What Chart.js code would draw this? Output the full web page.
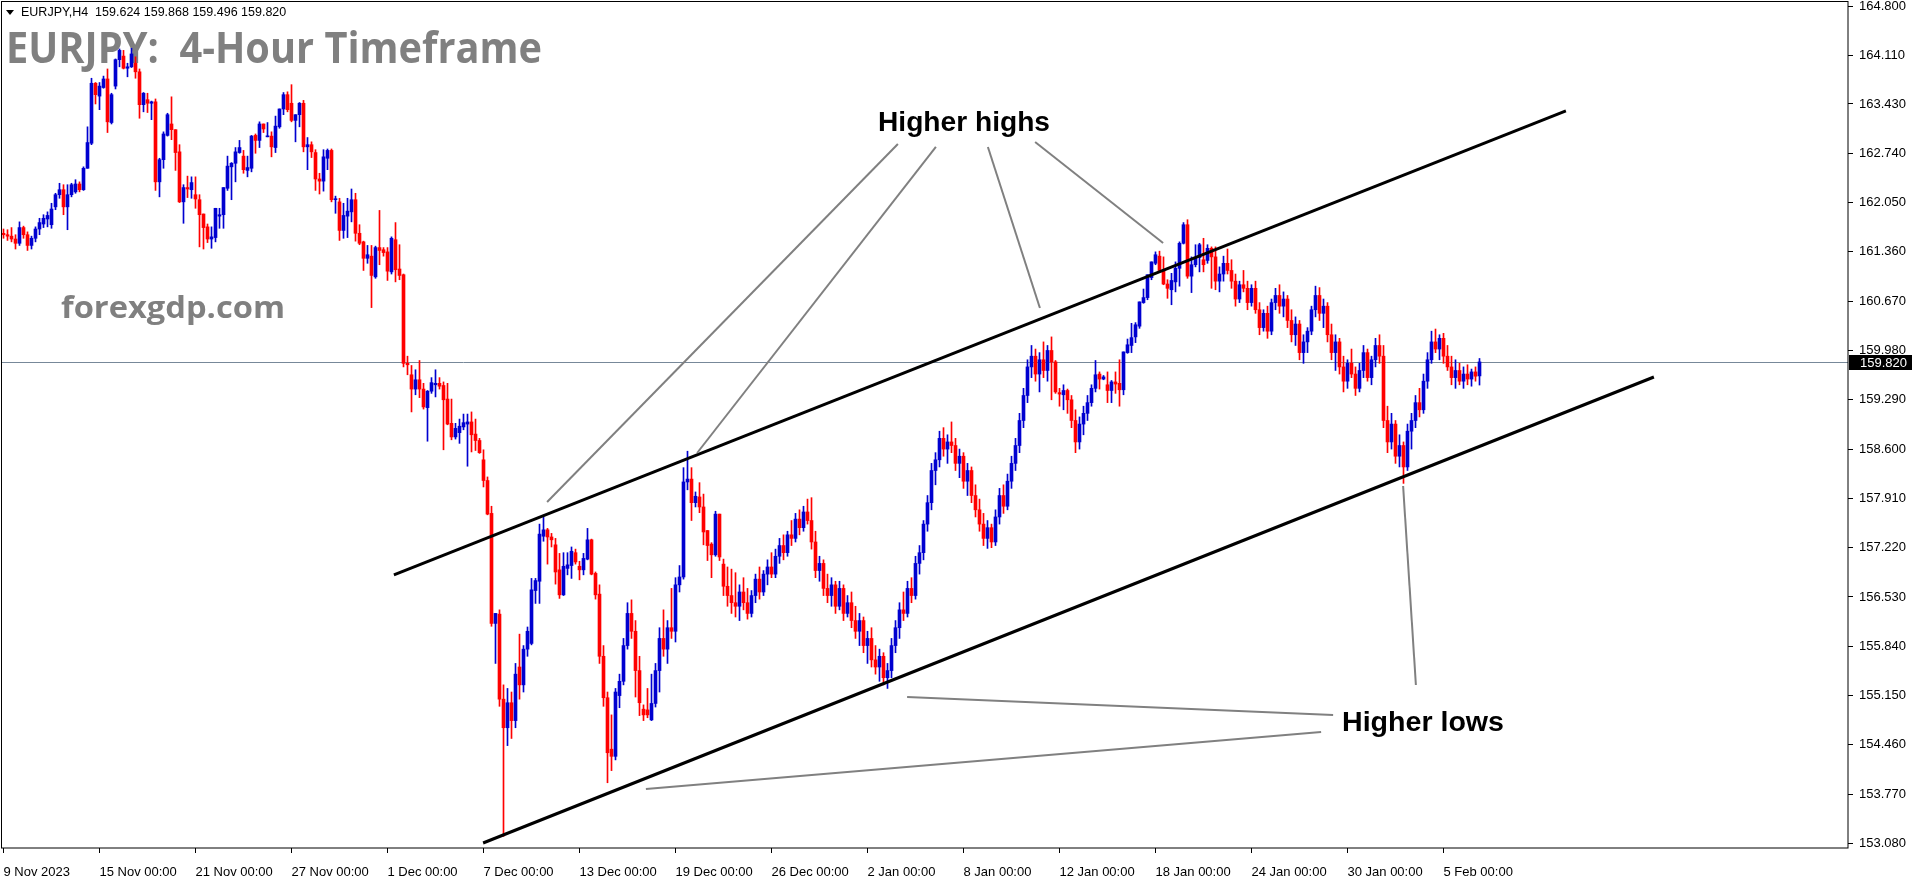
<!DOCTYPE html>
<html>
<head>
<meta charset="utf-8">
<title>EURJPY H4</title>
<script src="https://cdn.jsdelivr.net/npm/chart.js@4.4.0/dist/chart.umd.min.js"></script>
<style>
  html, body { margin: 0; padding: 0; background: #fff; }
  #wrap { width: 1916px; height: 884px; position: relative; }
</style>
</head>
<body>
<div id="wrap"><canvas id="chart"></canvas></div>
<script>
// EURJPY H4 candles (one value per bar, oldest first)
const opens = [
  161.62,161.60,161.58,161.54,161.48,161.70,161.60,161.45,161.55,161.68,
  161.75,161.82,161.74,161.99,162.16,162.23,161.99,162.16,162.20,162.31,
  162.23,162.53,162.88,163.72,163.54,163.66,163.78,163.17,163.68,164.05,
  164.10,163.93,163.95,164.00,163.88,163.42,163.49,163.44,163.46,162.34,
  162.65,162.99,163.15,163.07,162.76,162.06,162.26,162.23,162.16,162.09,
  161.89,161.71,161.54,161.56,161.86,161.88,162.25,162.55,162.60,162.75,
  162.70,162.50,162.53,162.99,162.92,163.15,162.97,162.98,162.82,163.11,
  163.36,163.56,163.44,163.20,163.28,163.44,162.83,162.86,162.75,162.38,
  162.35,162.67,162.78,162.09,162.06,161.66,161.86,161.92,162.09,161.62,
  161.50,161.27,161.30,161.01,161.42,161.39,161.36,161.08,161.53,161.12,
  161.04,159.80,159.64,159.44,159.57,159.44,159.18,159.41,159.50,159.52,
  159.49,159.30,158.96,158.77,158.83,158.91,158.95,158.98,158.81,158.72,
  158.45,158.16,157.70,156.16,156.29,155.10,154.70,155.05,154.80,155.55,
  155.30,155.80,155.88,156.62,156.75,157.38,157.47,157.37,157.26,156.91,
  156.56,156.93,156.97,157.15,156.96,156.91,157.06,157.33,156.86,156.57,
  155.70,155.12,154.40,154.30,155.15,155.35,155.85,156.30,156.05,155.50,
  154.96,154.95,154.81,155.04,155.50,155.95,155.80,156.10,156.05,156.70,
  156.81,158.14,158.18,157.85,157.93,157.79,157.46,157.27,157.12,157.69,
  156.99,156.68,156.55,156.45,156.40,156.60,156.45,156.30,156.55,156.78,
  156.60,156.85,156.95,156.85,157.10,157.25,157.15,157.40,157.35,157.62,
  157.50,157.72,157.60,157.30,156.90,157.00,156.65,156.55,156.70,156.40,
  156.65,156.30,156.45,156.20,156.05,156.20,155.85,155.95,155.65,155.55,
  155.70,155.40,155.50,155.85,156.10,156.35,156.30,156.65,156.55,157.00,
  157.15,157.55,157.85,158.30,158.45,158.75,158.60,158.70,158.65,158.40,
  158.50,158.15,158.30,157.95,157.75,157.55,157.35,157.50,157.30,157.65,
  157.95,157.80,158.15,158.40,158.65,159.00,159.35,159.75,159.90,159.65,
  159.85,159.70,159.98,159.82,159.39,159.36,159.42,159.29,159.00,158.70,
  158.95,159.10,159.25,159.45,159.65,159.58,159.50,159.42,159.54,159.52,
  159.43,159.95,160.05,160.17,160.32,160.65,160.72,161.00,161.20,161.30,
  161.10,160.91,160.83,160.94,161.13,161.48,161.74,161.02,161.18,161.28,
  161.25,161.24,161.41,161.29,160.95,161.05,161.20,161.10,160.95,160.70,
  160.90,160.85,160.65,160.85,160.55,160.30,160.50,160.25,160.65,160.75,
  160.60,160.70,160.40,160.20,160.35,159.95,160.10,160.25,160.55,160.75,
  160.50,160.60,160.20,159.95,160.10,159.75,159.55,159.80,159.65,159.45,
  159.70,159.95,159.60,159.85,160.05,159.90,159.00,158.70,158.95,158.50,
  158.65,158.35,158.85,159.00,159.25,159.15,159.55,159.85,160.10,160.00,
  160.15,159.90,159.75,159.60,159.70,159.55,159.65,159.58,159.68,159.624
];
const highs = [
  161.68,161.67,161.70,161.60,161.78,161.72,161.64,161.58,161.71,161.83,
  161.88,161.92,162.04,162.18,162.32,162.30,162.30,162.32,162.37,162.34,
  162.55,163.11,163.79,163.73,163.73,163.82,163.92,163.58,164.06,164.20,
  164.18,164.00,164.21,164.09,163.92,163.59,163.58,163.47,163.50,162.67,
  163.04,163.30,163.53,163.07,162.86,162.30,162.42,162.41,162.41,162.16,
  161.89,161.75,161.71,161.97,161.97,162.26,162.70,162.61,162.82,162.92,
  162.78,162.70,162.99,163.01,163.18,163.15,163.17,163.04,163.26,163.36,
  163.59,163.60,163.70,163.28,163.45,163.48,162.96,162.90,162.79,162.46,
  162.79,162.80,162.80,162.14,162.11,162.04,162.11,162.24,162.18,161.74,
  161.51,161.45,161.45,161.44,161.94,161.42,161.42,161.57,161.77,161.46,
  161.05,159.90,159.77,159.71,159.84,159.52,159.42,159.60,159.71,159.60,
  159.54,159.52,159.30,158.96,159.02,159.09,159.09,159.12,159.02,158.75,
  158.59,158.21,157.80,156.30,156.35,155.30,155.25,155.20,155.60,156.01,
  155.85,156.11,156.79,156.79,157.55,157.65,157.49,157.42,157.35,157.14,
  157.15,157.15,157.23,157.20,157.03,157.14,157.49,157.34,156.88,156.70,
  155.85,155.20,154.88,155.25,155.45,155.95,156.45,156.49,156.20,155.70,
  155.02,155.25,155.45,155.60,156.10,156.35,156.20,156.65,156.80,156.97,
  158.34,158.57,158.34,158.00,158.13,157.97,157.46,157.29,157.73,157.69,
  157.06,156.95,156.92,156.87,156.70,156.80,156.65,156.62,156.85,156.95,
  156.90,157.05,157.15,157.20,157.35,157.40,157.45,157.60,157.70,157.75,
  157.80,157.90,157.92,157.45,157.10,157.05,156.85,156.80,156.75,156.75,
  156.70,156.55,156.60,156.40,156.30,156.25,156.05,156.10,155.85,155.80,
  155.75,155.60,155.95,156.20,156.45,156.60,156.75,156.80,157.10,157.25,
  157.60,157.95,158.40,158.55,158.85,158.90,158.80,158.98,158.75,158.60,
  158.55,158.40,158.35,158.10,157.90,157.70,157.60,157.55,157.75,158.05,
  158.10,158.25,158.50,158.75,159.10,159.45,159.85,160.05,160.00,159.95,
  160.10,160.05,160.17,159.84,159.45,159.50,159.44,159.35,159.15,159.05,
  159.20,159.35,159.50,159.84,159.68,159.63,159.68,159.56,159.68,159.85,
  159.96,160.14,160.36,160.37,160.66,160.84,161.04,161.22,161.36,161.37,
  161.29,160.97,161.06,161.22,161.50,161.77,161.81,161.29,161.46,161.48,
  161.55,161.46,161.43,161.43,161.15,161.30,161.40,161.25,161.05,160.95,
  161.10,160.95,160.90,160.95,160.65,160.55,160.60,160.70,160.85,160.90,
  160.80,160.75,160.55,160.45,160.40,160.20,160.30,160.60,160.88,160.86,
  160.70,160.65,160.35,160.20,160.15,159.90,159.85,160.00,159.75,159.80,
  160.05,160.00,159.90,160.15,160.20,160.05,159.20,159.10,159.00,158.80,
  158.70,158.95,159.10,159.35,159.45,159.65,159.95,160.25,160.28,160.20,
  160.22,160.05,159.90,159.85,159.80,159.75,159.78,159.72,159.75,159.868
];
const lows = [
  161.55,161.52,161.50,161.40,161.45,161.55,161.38,161.40,161.50,161.60,
  161.70,161.71,161.69,161.95,162.11,161.88,161.67,162.13,162.18,162.20,
  162.22,162.53,162.86,163.43,163.35,163.65,163.03,163.15,163.64,163.95,
  163.92,163.81,163.94,163.79,163.23,163.32,163.31,163.21,162.22,162.13,
  162.53,162.98,162.93,162.50,162.05,161.76,162.12,162.11,161.97,161.43,
  161.40,161.49,161.41,161.50,161.69,161.69,162.22,162.09,162.34,162.74,
  162.46,162.41,162.48,162.74,162.82,163.03,162.97,162.69,162.75,163.09,
  163.28,163.32,163.18,162.90,163.11,162.76,162.51,162.68,162.22,162.17,
  162.21,162.51,162.06,161.90,161.52,161.55,161.56,161.78,161.51,161.46,
  161.10,161.20,160.58,160.99,161.18,161.30,160.96,161.05,160.94,160.97,
  159.75,159.64,159.12,159.36,159.32,159.16,158.71,159.38,159.33,159.44,
  158.59,158.94,158.73,158.74,158.68,158.87,158.36,158.56,158.58,158.54,
  158.07,157.68,156.12,155.60,155.00,153.18,154.45,154.55,154.70,155.10,
  155.20,155.70,155.86,156.44,156.44,157.31,156.99,157.23,156.71,156.51,
  156.55,156.84,156.79,156.99,156.77,156.84,157.05,156.84,156.50,155.60,
  155.00,153.93,154.10,154.25,154.98,155.30,155.80,155.95,155.13,154.87,
  154.80,154.84,154.80,154.99,155.20,155.70,155.60,155.95,155.90,156.60,
  156.78,158.03,157.60,157.79,157.71,157.26,157.04,156.80,157.10,157.04,
  156.55,156.40,156.30,156.25,156.20,156.35,156.22,156.25,156.45,156.50,
  156.55,156.70,156.80,156.80,157.00,157.05,157.10,157.25,157.30,157.40,
  157.45,157.55,157.20,156.80,156.75,156.55,156.45,156.40,156.30,156.35,
  156.20,156.25,156.10,155.95,155.85,155.75,155.60,155.55,155.45,155.35,
  155.30,155.25,155.40,155.75,155.95,156.20,156.25,156.45,156.50,156.85,
  157.05,157.45,157.75,158.10,158.35,158.50,158.40,158.55,158.30,158.20,
  158.05,157.95,157.85,157.65,157.45,157.25,157.21,157.22,157.25,157.55,
  157.70,157.75,158.05,158.30,158.55,158.90,159.25,159.60,159.55,159.40,
  159.60,159.55,159.29,159.38,159.20,159.15,159.10,158.90,158.55,158.60,
  158.80,159.00,159.20,159.40,159.44,159.57,159.25,159.25,159.38,159.20,
  159.36,159.94,159.95,160.09,160.29,160.64,160.69,160.97,161.18,161.08,
  160.90,160.71,160.62,160.80,160.88,161.47,160.99,160.79,161.15,161.08,
  161.08,161.20,160.85,160.83,160.80,160.95,161.05,160.85,160.60,160.65,
  160.80,160.55,160.60,160.50,160.20,160.25,160.15,160.20,160.55,160.50,
  160.45,160.30,160.10,160.05,159.85,159.80,159.95,160.20,160.45,160.40,
  160.30,160.10,159.85,159.70,159.65,159.40,159.45,159.60,159.35,159.40,
  159.60,159.55,159.50,159.75,159.80,158.90,158.55,158.60,158.40,158.35,
  158.12,158.30,158.60,158.90,159.05,159.10,159.45,159.80,159.95,159.85,
  159.80,159.70,159.50,159.45,159.50,159.45,159.50,159.48,159.55,159.496
];
const closes = [
  161.60,161.58,161.54,161.48,161.70,161.60,161.45,161.55,161.68,161.77,
  161.83,161.87,161.96,162.16,162.23,161.99,162.16,162.30,162.31,162.23,
  162.53,162.89,163.72,163.56,163.68,163.78,163.18,163.56,164.05,164.18,
  163.93,163.95,164.13,163.88,163.42,163.58,163.44,163.46,162.34,162.65,
  163.01,163.28,163.07,162.75,162.06,162.26,162.24,162.33,162.10,161.88,
  161.70,161.54,161.57,161.97,161.88,162.26,162.56,162.60,162.76,162.82,
  162.51,162.54,162.98,162.92,163.15,163.08,162.98,162.83,163.12,163.36,
  163.56,163.35,163.20,163.28,163.44,162.83,162.86,162.76,162.38,162.35,
  162.69,162.78,162.09,162.10,161.66,161.87,161.93,162.09,161.62,161.48,
  161.27,161.32,161.03,161.42,161.38,161.35,161.09,161.55,161.11,161.03,
  159.80,159.78,159.44,159.57,159.44,159.19,159.41,159.53,159.52,159.48,
  159.29,158.95,158.77,158.89,158.92,158.97,158.98,158.80,158.72,158.55,
  158.16,157.69,156.16,156.30,155.10,154.70,155.05,154.80,155.45,155.30,
  155.80,156.05,156.63,156.76,157.41,157.47,157.37,157.33,156.88,156.56,
  156.96,156.98,157.17,157.02,156.91,157.07,157.33,156.85,156.56,155.70,
  155.12,154.35,154.30,155.20,155.35,155.85,156.30,156.05,155.50,155.05,
  154.88,154.88,155.04,155.50,155.95,155.80,156.10,156.05,156.70,156.81,
  158.14,158.18,157.85,157.94,157.79,157.44,157.25,157.12,157.69,157.09,
  156.68,156.55,156.45,156.40,156.60,156.45,156.30,156.55,156.78,156.60,
  156.85,156.95,156.85,157.10,157.25,157.15,157.40,157.35,157.62,157.50,
  157.72,157.60,157.30,156.90,157.00,156.65,156.55,156.70,156.40,156.65,
  156.30,156.45,156.20,156.05,156.20,155.85,155.95,155.65,155.55,155.70,
  155.40,155.50,155.85,156.10,156.35,156.30,156.65,156.55,157.00,157.15,
  157.55,157.85,158.30,158.45,158.75,158.60,158.70,158.65,158.40,158.50,
  158.15,158.30,157.95,157.75,157.55,157.35,157.50,157.30,157.65,157.95,
  157.80,158.15,158.40,158.65,159.00,159.35,159.75,159.90,159.65,159.85,
  159.70,159.98,159.82,159.40,159.37,159.42,159.29,159.00,158.70,158.95,
  159.10,159.25,159.45,159.64,159.58,159.61,159.42,159.54,159.51,159.43,
  159.96,160.06,160.16,160.34,160.66,160.72,161.04,161.22,161.32,161.10,
  160.91,160.85,160.96,161.13,161.48,161.74,161.02,161.18,161.28,161.46,
  161.18,161.41,161.29,160.95,161.05,161.20,161.10,160.95,160.70,160.90,
  160.85,160.65,160.85,160.55,160.30,160.50,160.25,160.65,160.75,160.60,
  160.70,160.40,160.20,160.35,159.95,160.10,160.25,160.55,160.75,160.50,
  160.60,160.20,159.95,160.10,159.75,159.55,159.80,159.65,159.45,159.70,
  159.95,159.60,159.85,160.05,159.90,159.00,158.70,158.95,158.50,158.65,
  158.35,158.85,159.00,159.25,159.15,159.55,159.85,160.10,160.00,160.15,
  159.90,159.75,159.60,159.70,159.55,159.65,159.58,159.68,159.62,159.820
];

// price scale labels on the right
const priceTicks = [164.800, 164.110, 163.430, 162.740, 162.050, 161.360, 160.670, 159.980, 159.290,
                    158.600, 157.910, 157.220, 156.530, 155.840, 155.150, 154.460, 153.770, 153.080];
// time scale labels (bar index -> text)
const dateTickIdx = [0, 24, 48, 72, 96, 120, 144, 168, 192, 216, 240, 264, 288, 312, 336, 360];
const dateTickLabels = ['9 Nov 2023', '15 Nov 00:00', '21 Nov 00:00', '27 Nov 00:00', '1 Dec 00:00',
  '7 Dec 00:00', '13 Dec 00:00', '19 Dec 00:00', '26 Dec 00:00', '2 Jan 00:00', '8 Jan 00:00',
  '12 Jan 00:00', '18 Jan 00:00', '24 Jan 00:00', '30 Jan 00:00', '5 Feb 00:00'];

const lastPrice = 159.820;
const headerText = 'EURJPY,H4  159.624 159.868 159.496 159.820';

// channel and pointer lines as [bar index, price]
const upperChannel = [[97.6, 156.838], [390.6, 163.332]];
const lowerChannel = [[119.9, 153.087], [412.6, 159.609]];
const highPointers = [
  [[135.9, 157.859], [223.6, 162.870]],
  [[173.4, 158.545], [233.1, 162.828]],
  [[246.1, 162.828], [259.1, 160.575]],
  [[257.9, 162.898], [289.9, 161.484]]
];
const lowPointers = [
  [[349.9, 158.083], [353.1, 155.298]],
  [[225.9, 155.130], [332.4, 154.878]],
  [[160.6, 153.843], [329.4, 154.641]]
];

const BULL = '#0000d0';
const BEAR = '#ff0000';
const candleColors = closes.map((c, i) => c >= opens[i] ? BULL : BEAR);

function toPx(chart, pt) {
    return [chart.scales.x.getPixelForValue(pt[0]), chart.scales.y.getPixelForValue(pt[1])];
}

function drawLine(chart, seg, color, width) {
    const ctx = chart.ctx;
    const a = toPx(chart, seg[0]);
    const b = toPx(chart, seg[1]);
    ctx.save();
    ctx.strokeStyle = color;
    ctx.lineWidth = width;
    ctx.beginPath();
    ctx.moveTo(a[0], a[1]);
    ctx.lineTo(b[0], b[1]);
    ctx.stroke();
    ctx.restore();
}

// draw text squeezed/stretched to a given width
function fitText(ctx, text, x, y, width, font, color) {
    ctx.save();
    ctx.font = font;
    ctx.fillStyle = color;
    ctx.textBaseline = 'alphabetic';
    const w = ctx.measureText(text).width;
    ctx.translate(x, y);
    ctx.scale(width / w, 1);
    ctx.fillText(text, 0, 0);
    ctx.restore();
}

const mt4Plugin = {
    id: 'mt4',
    beforeDatasetsDraw(chart) {
        const ctx = chart.ctx;
        const area = chart.chartArea;
        // watermark texts sit under the candles
        fitText(ctx, 'EURJPY:  4-Hour Timeframe', 6, 63, 536, 'bold 43px "Open Sans"', '#808080');
        fitText(ctx, 'forexgdp.com', 61, 318, 224, 'bold 30px "Open Sans"', '#808080');

        // bid line
        const y = Math.round(chart.scales.y.getPixelForValue(lastPrice)) + 0.5;
        ctx.save();
        ctx.strokeStyle = '#778899';
        ctx.lineWidth = 1;
        ctx.beginPath();
        ctx.moveTo(area.left, y);
        ctx.lineTo(area.right, y);
        ctx.stroke();
        ctx.restore();
    },
    afterDatasetsDraw(chart) {
        const ctx = chart.ctx;
        drawLine(chart, upperChannel, '#000', 3);
        drawLine(chart, lowerChannel, '#000', 3);
        highPointers.forEach(seg => drawLine(chart, seg, '#808080', 2));
        lowPointers.forEach(seg => drawLine(chart, seg, '#808080', 2));

        fitText(ctx, 'Higher highs', 878, 131, 172, 'bold 28px "Liberation Sans"', '#000');
        fitText(ctx, 'Higher lows', 1342, 731, 162, 'bold 28px "Liberation Sans"', '#000');
    },
    afterDraw(chart) {
        const ctx = chart.ctx;
        const area = chart.chartArea;
        ctx.save();
        // window frame
        ctx.strokeStyle = '#000';
        ctx.lineWidth = 1;
        ctx.strokeRect(1.5, 1.5, area.right - 1.5, area.bottom - 1.5);

        // header line with the small triangle
        ctx.fillStyle = '#000';
        ctx.beginPath();
        ctx.moveTo(6, 10);
        ctx.lineTo(14, 10);
        ctx.lineTo(10, 15);
        ctx.closePath();
        ctx.fill();
        ctx.font = '12.5px "Liberation Sans"';
        ctx.textBaseline = 'middle';
        ctx.fillText(headerText, 21, 13);

        // last price tag on the price scale
        const y = Math.round(chart.scales.y.getPixelForValue(lastPrice));
        ctx.fillStyle = '#000';
        ctx.fillRect(area.right + 1, y - 7, 63, 15);
        ctx.fillStyle = '#fff';
        ctx.font = '13px "Liberation Sans"';
        ctx.textBaseline = 'middle';
        ctx.fillText(lastPrice.toFixed(3), area.right + 12, y + 1);
        ctx.restore();
    }
};

const axisFont = { family: '"Liberation Sans"', size: 13 };

const chart = new Chart(document.getElementById('chart'), {
    type: 'bar',
    data: {
        datasets: [
            {
                label: 'wicks',
                data: highs.map((h, i) => ({ x: i, y: [lows[i], h] })),
                backgroundColor: candleColors,
                barThickness: 1,
                grouped: false,
                borderWidth: 0,
                order: 2
            },
            {
                label: 'bodies',
                data: opens.map((o, i) => ({ x: i, y: [o, closes[i]] })),
                backgroundColor: candleColors,
                barThickness: 3,
                grouped: false,
                minBarLength: 1,
                borderWidth: 0,
                order: 1
            }
        ]
    },
    options: {
        responsive: true,
        maintainAspectRatio: false,
        animation: false,
        devicePixelRatio: 1,
        layout: { padding: { left: 2, top: 2, right: 0, bottom: 0 } },
        plugins: {
            legend: { display: false },
            tooltip: { enabled: false }
        },
        scales: {
            x: {
                type: 'linear',
                offset: false,
                min: -0.375,
                max: 461.125,
                afterBuildTicks: (scale) => {
                    scale.ticks = dateTickIdx.map(v => ({ value: v }));
                },
                afterFit: (scale) => {
                    scale.height = 36;
                    scale.paddingLeft = 0;
                    scale.paddingRight = 0;
                },
                border: { display: false },
                grid: { offset: false, drawOnChartArea: false, drawTicks: true, tickLength: 5, color: '#000' },
                ticks: {
                    autoSkip: false,
                    maxRotation: 0,
                    align: 'start',
                    padding: 12,
                    color: '#000',
                    font: axisFont,
                    callback: (v) => {
                        const k = dateTickIdx.indexOf(v);
                        return k >= 0 ? dateTickLabels[k] : '';
                    }
                }
            },
            y: {
                position: 'right',
                min: 153.017,
                max: 164.857,
                afterBuildTicks: (scale) => {
                    scale.ticks = priceTicks.map(v => ({ value: v }));
                },
                afterFit: (scale) => {
                    scale.width = 68;
                    scale.paddingTop = 0;
                    scale.paddingBottom = 0;
                },
                border: { display: false },
                grid: { drawOnChartArea: false, drawTicks: true, tickLength: 5, color: '#000' },
                ticks: {
                    padding: 6,
                    color: '#000',
                    font: axisFont,
                    callback: (v) => Number(v).toFixed(3)
                }
            }
        }
    },
    plugins: [mt4Plugin]
});
</script>
</body>
</html>
